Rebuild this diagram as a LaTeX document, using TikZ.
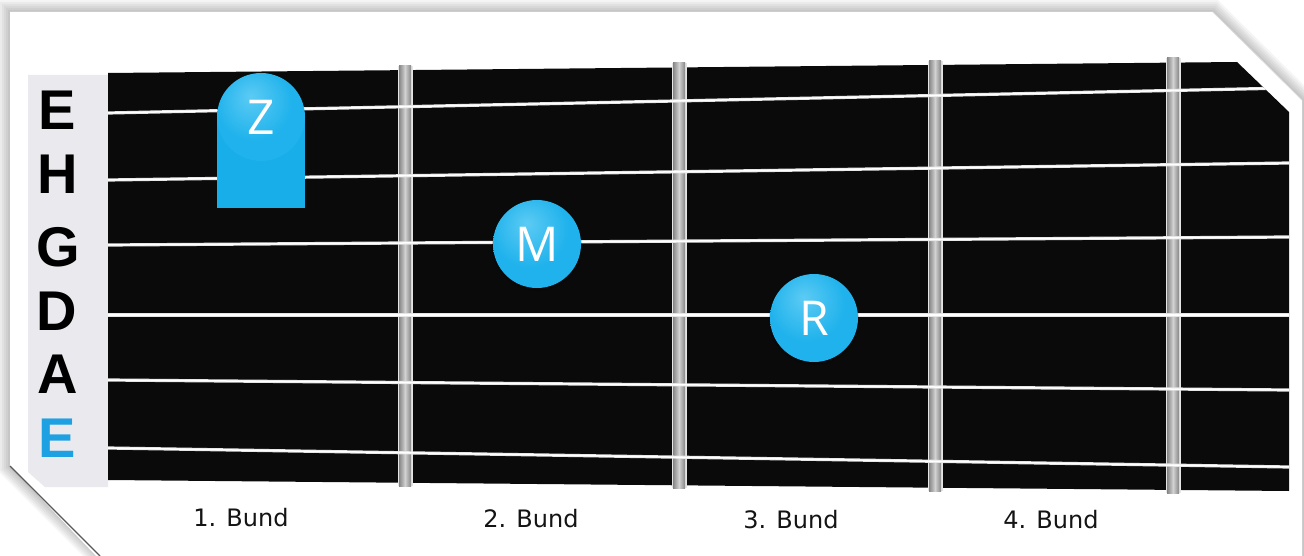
\documentclass[tikz,border=0pt]{standalone}
\usepackage{fontspec}
\usetikzlibrary{calc}
\setmainfont{DejaVu Sans}
\newfontfamily\stringfont{Liberation Sans Bold}
\newfontfamily\fingerfont{Open Sans}
\definecolor{fingerblue}{HTML}{18AEE9}
\definecolor{ballhi}{HTML}{5CCBF4}
\definecolor{ballmid}{HTML}{1FB2EC}
\definecolor{balllow}{HTML}{1499D8}
\definecolor{board}{HTML}{0A0A0A}
\definecolor{colbg}{HTML}{E9E9EE}
\definecolor{fretdark}{HTML}{858585}
\definecolor{fretlight}{HTML}{D2D2D2}
\definecolor{openblue}{HTML}{1DA1E2}
\definecolor{bundtext}{HTML}{141414}
\pgfdeclareradialshading{glossy}{\pgfpoint{-6bp}{12bp}}{%
  color(0bp)=(ballhi); color(22bp)=(ballmid); color(44bp)=(ballmid); color(62bp)=(balllow); color(70bp)=(balllow)}
\tikzset{
  stringlabel/.style={font=\stringfont\fontsize{56}{56}\selectfont, anchor=base, inner sep=0pt},
  bundlabel/.style={font=\fontsize{24}{24}\selectfont, text=bundtext, anchor=base, inner sep=0pt},
  fingerlabel/.style={font=\fingerfont\fontsize{48}{48}\selectfont, text=white, inner sep=0pt},
  stringline/.style={line width=3.2pt, color=white!80!gray},
  stringcore/.style={line width=1.5pt, color=white},
}
\newcommand{\fingerball}[1]{%
  \fill[black, opacity=0.15] ($(#1)+(0,2)$) circle[radius=45pt];
  \shade[shading=glossy] (#1) circle[radius=44pt];
}
\begin{document}
\begin{tikzpicture}[x=1pt,y=-1pt]
\useasboundingbox (0,0) rectangle (1304,556);
\fill[white] (0,0) rectangle (1304,556);

% soft shadow around the card
\foreach \w in {24,20,16,12,8,4}
  \draw[line width=\w pt, black, opacity=0.04, line join=miter]
    (10,12) -- (1213,12) -- (1302,100) -- (1302,600) -- (100,600) -- (100,556) -- (10,466) -- cycle;
\fill[white] (10,12) -- (1213,12) -- (1302,100) -- (1302,560) -- (100,560) -- (10,466) -- cycle;
\draw[line width=1.2pt, black!65] (10,466) -- (100,556);
\draw[line width=0.8pt, black!15] (1213,12) -- (1302,100);

% label column and fretboard
\fill[colbg] (28,75) -- (108,75) -- (108,487) -- (45,487) -- (28,472) -- cycle;
\path[fill=board] (108,73) -- (1237,62) -- (1289,112) -- (1289,491) -- (108,480) -- cycle;

% frets
\foreach \x/\t/\b in {405/66/486, 679/63/488, 935/61/491, 1173/58/493} {
  \fill[white!80!gray] (\x-7.5,\t) rectangle (\x+7.5,\b);
  \shade[left color=fretdark, right color=fretdark, middle color=fretlight] (\x-6,\t) rectangle (\x+6,\b);
}

% strings
\begin{scope}
  \clip (108,73) -- (1237,62) -- (1289,112) -- (1289,491) -- (108,480) -- cycle;
  \foreach \l/\r in {113/88, 180/163, 245/237, 315/315, 380/390, 448/467} {
    \draw[stringline] (108,\l) -- (1289,\r);
    \draw[stringcore] (108,\l) -- (1289,\r);
  }
\end{scope}

% string names
\node[stringlabel] (sE1) at (57,130) {E};
\node[stringlabel] (sH)  at (58,194) {H};
\node[stringlabel] (sG)  at (58,266) {G};
\node[stringlabel] (sD)  at (57,330) {D};
\node[stringlabel] (sA)  at (58,393) {A};
\node[stringlabel, text=openblue] (sE6) at (57,457) {E};

% fret numbers
\node[bundlabel] (b1) at (241,526) {1. Bund};
\node[bundlabel] (b2) at (531,527) {2. Bund};
\node[bundlabel] (b3) at (791,528) {3. Bund};
\node[bundlabel] (b4) at (1051,528) {4. Bund};

% fingers
\coordinate (pz) at (261,117);
\coordinate (pm) at (537,244);
\coordinate (pr) at (814,318);
\fill[fingerblue] (217,119) rectangle (305,208);
\shade[shading=glossy] (pz) circle[radius=44pt];
\fingerball{pm}
\fingerball{pr}
\node[fingerlabel] (fz) at (pz) {Z};
\node[fingerlabel] (fm) at (pm) {M};
\node[fingerlabel] (fr) at (pr) {R};
\end{tikzpicture}
\end{document}
